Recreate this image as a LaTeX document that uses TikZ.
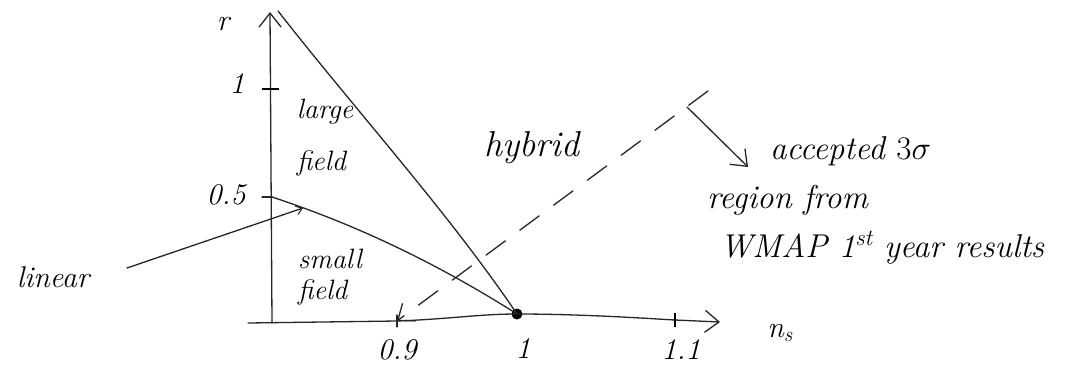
\RequirePackage{fix-cm}
\documentclass[tikz,border=0pt]{standalone}
\usetikzlibrary{arrows.meta}
\begin{document}
\begin{tikzpicture}[x=1pt,y=-1pt,
  hand/.style={font=\fontsize{30}{36}\selectfont\itshape, inner sep=0pt},
  pen/.style={line width=1.3pt, line cap=round, line join=round, draw=black!85},
  barb/.style={-{Straight Barb[length=14pt,width=22pt,line width=1.3pt]}},
  smallbarb/.style={-{Straight Barb[length=6pt,width=9pt,line width=1.1pt]}},
  tickmark/.style={line width=2.2pt, draw=black},
  dashline/.style={dash pattern=on 24pt off 18pt}]
\useasboundingbox (0,0) rectangle (1087,365);

% axes points
\coordinate (O) at (272,323);
\coordinate (ytop) at (270,12);
\coordinate (xs) at (248,323);
\coordinate (x09) at (397,321);
\coordinate (x11) at (675,320);
\coordinate (xtip) at (720,322);
\coordinate (y1) at (271,89);
\coordinate (y05) at (272,197);
\coordinate (apex) at (278,11);
\node[circle, fill=black, inner sep=0pt, minimum size=11pt] (dot) at (517,314) {};

% axes
\draw[pen, barb] (O) -- (ytop);
\draw[pen, barb] (xs) -- (x09) .. controls (450,319) and (480,314) .. (dot.center)
   .. controls (580,314) and (640,318) .. (x11) -- (xtip);

% ticks
\draw[tickmark] ([xshift=-9pt]y1) -- ([xshift=8pt]y1);
\draw[pen] ([xshift=-10pt]y05) -- (y05);
\draw[pen] ([yshift=-6pt]x09) -- ([yshift=6pt]x09);
\draw[tickmark] ([yshift=-7pt]x11) -- ([yshift=7pt]x11);

% region boundaries
\draw[pen] (apex) .. controls (357,112) and (448,212) .. (dot.center);
\draw[pen] (y05) .. controls (354,224) and (435,262) .. (dot.center);

% dashed hybrid line and accepted-region arrow
\coordinate (dend) at (708,91);
\coordinate (tstart) at (687,107);
\coordinate (ttip) at (748,167);
\draw[pen, dashline, barb] (dend) -- (x09);
\draw[pen, barb] (tstart) -- (ttip);

% labels
\node[hand] (r) at (223,24) {r};
\node[hand] (l1) at (237,84) {1};
\node[hand] (l05) at (226,195) {0.5};
\node[hand] (l09) at (397,350) {0.9};
\node[hand] (l1x) at (523,349) {1};
\node[hand] (l11) at (681,350) {1.1};
\node[hand] (ns) at (780,333) {n\textsubscript{s}};
\node[hand, font=\fontsize{28}{52}\selectfont\itshape, align=left] (large) at (325,138) {large\\field};
\node[hand, font=\fontsize{28}{31}\selectfont\itshape, align=left] (small) at (330,277) {small\\field};
\node[hand, font=\fontsize{36}{40}\selectfont\itshape] (hybrid) at (532,148) {hybrid};
\node[hand] (linear) at (53,277) {linear};
\node[hand, font=\fontsize{33}{49}\selectfont\itshape, align=left, anchor=north west] (wmap) at (707,136)
  {\hspace*{63pt}accepted $3\sigma$\\region from\\\hspace*{13pt}WMAP 1\textsuperscript{st} year results};

% linear arrow
\coordinate (lstart) at (127,268);
\coordinate (lend) at (303,208);
\draw[pen, smallbarb] (lstart) -- (lend);
\end{tikzpicture}
\end{document}
